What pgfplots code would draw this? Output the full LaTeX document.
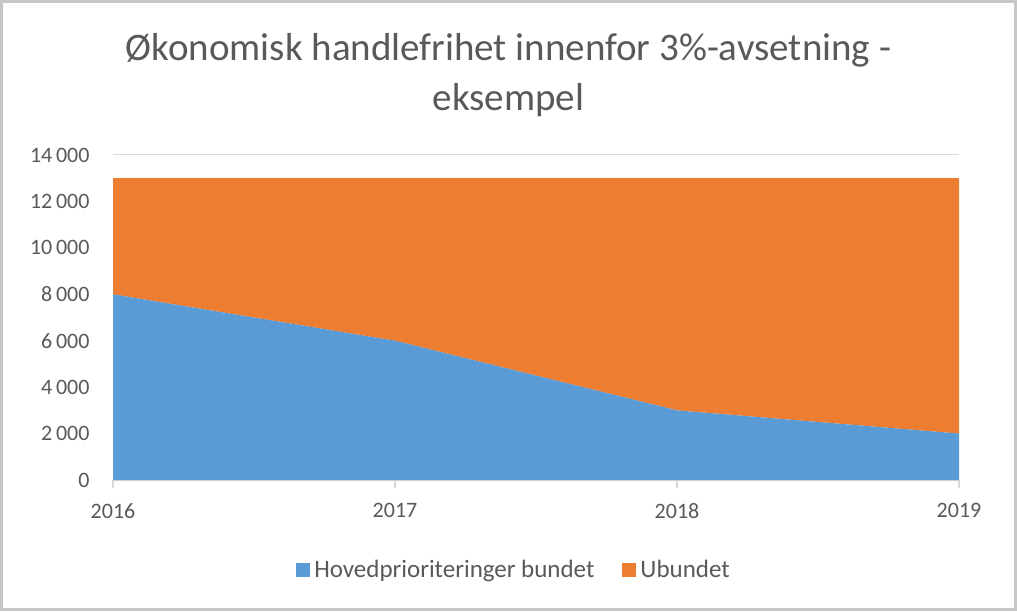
\documentclass[border=0pt]{standalone}
\usepackage{fontspec}
\setmainfont{Carlito}
\usepackage{pgfplots}
\pgfplotsset{compat=1.18}
\definecolor{cblue}{HTML}{5B9BD5}
\definecolor{corange}{HTML}{ED7D31}
\definecolor{ctext}{HTML}{595959}
\definecolor{cgrid}{HTML}{D9D9D9}
\begin{document}
\begin{tikzpicture}[x=1pt,y=1pt]
\path[use as bounding box] (0,0) rectangle (1017,611);
\fill[white] (0,0) rectangle (1017,611);
\draw[color=cgrid!80!gray, line width=3] (1.5,1.5) rectangle (1015.5,609.5);
\node[text=ctext, font=\fontsize{39}{46}\selectfont] at (508.5,561) {Økonomisk handlefrihet innenfor 3\%-avsetning -};
\node[text=ctext, font=\fontsize{39}{46}\selectfont] at (508.5,511) {eksempel};
\begin{axis}[
  at={(113pt,131pt)}, anchor=south west,
  scale only axis, width=846pt, height=325pt,
  xmin=2016, xmax=2019, ymin=0, ymax=14000,
  stack plots=y,
  scaled y ticks=false,
  axis x line*=bottom, axis y line*=left,
  x axis line style={draw=cgrid, line width=1.2pt},
  y axis line style={draw=none},
  xtick={2016,2017,2018,2019},
  xticklabels={2016,2017,2018,2019},
  x tick style={draw=cgrid, line width=1.2pt},
  y tick style={draw=none},
  tick align=outside, major tick length=8pt,
  ytick={0,2000,...,14000},
  ymajorgrids, grid style={draw=cgrid, line width=1pt},
  yticklabel style={text=ctext, font=\fontsize{22}{26}\selectfont, xshift=-12pt},
  xticklabel style={text=ctext, font=\fontsize{22}{26}\selectfont, yshift=-12pt},
  /pgf/number format/.cd, assume math mode=true, 1000 sep={\,}, fixed,
  /pgfplots/.cd,
  legend columns=2,
  legend style={at={(0.474,-0.277)}, anchor=center, draw=none, fill=none,
    font=\fontsize{25}{30}\selectfont, text=ctext,
    /tikz/every even column/.append style={column sep=26pt}},
  legend image code/.code={\fill[#1,draw=none] (0pt,-7pt) rectangle (14pt,7pt); \path (0pt,0pt) -- (16pt,0pt);},
]
\addplot[fill=cblue, draw=none] coordinates {(2016,8000) (2017,6000) (2018,3000) (2019,2000)} \closedcycle;
\addlegendentry{Hovedprioriteringer bundet}
\addplot[fill=corange, draw=none] coordinates {(2016,5000) (2017,7000) (2018,10000) (2019,11000)} \closedcycle;
\addlegendentry{Ubundet}
\end{axis}
\end{tikzpicture}
\end{document}
